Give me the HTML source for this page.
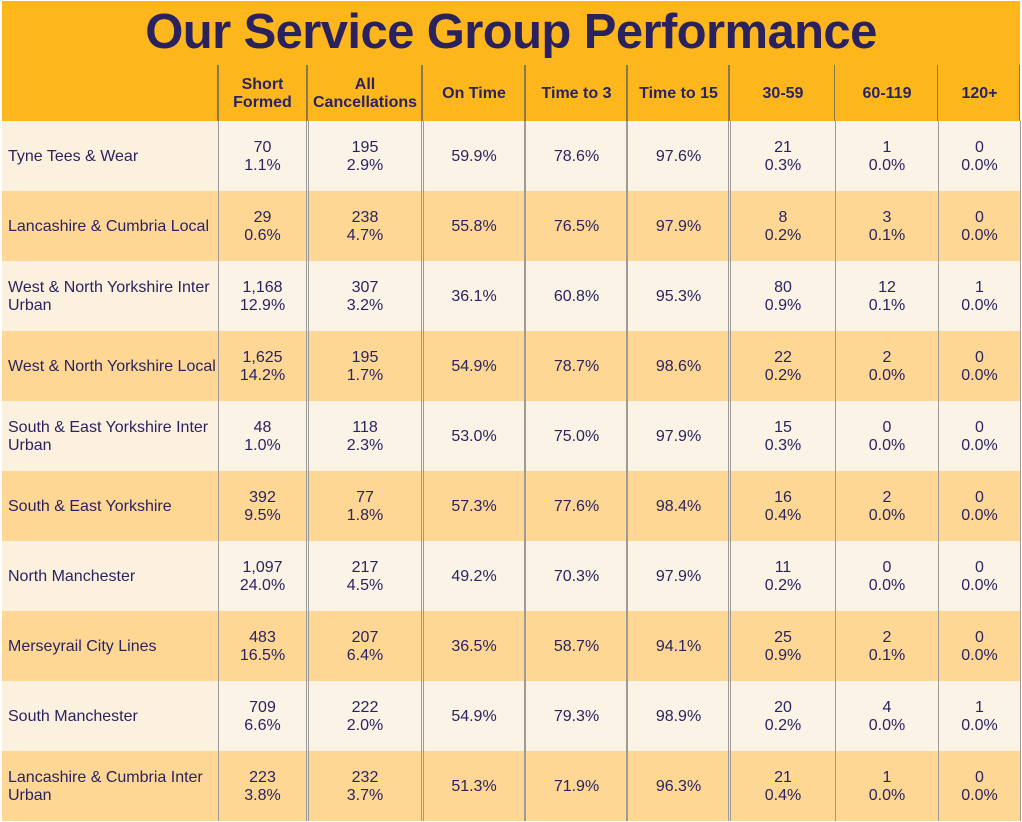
<!DOCTYPE html>
<html>
<head>
<meta charset="utf-8">
<style>
  html,body{margin:0;padding:0;background:#fff;}
  body{width:1022px;height:822px;position:relative;overflow:hidden;
       font-family:"Liberation Sans",Arial,sans-serif;color:#2a2360;}
  .hdr{position:absolute;left:2px;top:1px;width:1018px;height:120px;background:#fdb71d;}
  .title{position:absolute;left:0;width:1022px;top:8px;height:49px;line-height:49px;
         text-align:center;font-weight:bold;font-size:49px;letter-spacing:-0.6px;color:#29225f;}
  .row{position:absolute;left:2px;width:1018px;height:70px;}
  .light{background:#faf3e6;}
  .light .lab{background:#fcf1de;}
  .dark{background:#fed795;}
  .cell{position:absolute;top:0;height:70px;display:flex;align-items:center;justify-content:center;
        text-align:center;font-size:16px;line-height:18px;box-sizing:border-box;padding-top:2px;}
  .lab{position:absolute;left:0;top:0;width:216px;height:70px;display:flex;align-items:center;
       font-size:16px;line-height:18px;padding-left:6px;padding-top:2px;box-sizing:border-box;white-space:nowrap;}
  .h{position:absolute;top:65px;height:56px;display:flex;align-items:center;justify-content:center;
     text-align:center;font-size:16px;line-height:18px;font-weight:bold;color:#2a2360;box-sizing:border-box;padding-top:2px;}
  .vl{position:absolute;top:121px;height:700px;background:#9e9b96;}
  .vh{position:absolute;top:65px;height:56px;background:#8c7749;}
</style>
</head>
<body>
<div class="hdr"></div>
<div class="title">Our Service Group Performance</div>

<div class="h" style="left:219px;width:87px;">Short<br>Formed</div>
<div class="h" style="left:309px;width:112px;">All<br>Cancellations</div>
<div class="h" style="left:423px;width:102px;">On Time</div>
<div class="h" style="left:526px;width:101px;">Time to 3</div>
<div class="h" style="left:628px;width:101px;">Time to 15</div>
<div class="h" style="left:731px;width:104px;">30-59</div>
<div class="h" style="left:836px;width:102px;">60-119</div>
<div class="h" style="left:939px;width:81px;">120+</div>

<!-- rows -->
<div class="row light" style="top:121px;">
  <div class="lab">Tyne Tees &amp; Wear</div>
</div>
<div class="row dark" style="top:191px;">
  <div class="lab">Lancashire &amp; Cumbria Local</div>
</div>
<div class="row light" style="top:261px;">
  <div class="lab">West &amp; North Yorkshire Inter<br>Urban</div>
</div>
<div class="row dark" style="top:331px;">
  <div class="lab">West &amp; North Yorkshire Local</div>
</div>
<div class="row light" style="top:401px;">
  <div class="lab">South &amp; East Yorkshire Inter<br>Urban</div>
</div>
<div class="row dark" style="top:471px;">
  <div class="lab">South &amp; East Yorkshire</div>
</div>
<div class="row light" style="top:541px;">
  <div class="lab">North Manchester</div>
</div>
<div class="row dark" style="top:611px;">
  <div class="lab">Merseyrail City Lines</div>
</div>
<div class="row light" style="top:681px;">
  <div class="lab">South Manchester</div>
</div>
<div class="row dark" style="top:751px;">
  <div class="lab">Lancashire &amp; Cumbria Inter<br>Urban</div>
</div>

<div style="position:absolute;left:0;top:0;">
<!-- row 1 -->
<div class="cell" style="left:219px;width:87px;top:121px;">70<br>1.1%</div>
<div class="cell" style="left:309px;width:112px;top:121px;">195<br>2.9%</div>
<div class="cell" style="left:423px;width:102px;top:121px;">59.9%</div>
<div class="cell" style="left:526px;width:101px;top:121px;">78.6%</div>
<div class="cell" style="left:628px;width:101px;top:121px;">97.6%</div>
<div class="cell" style="left:731px;width:104px;top:121px;">21<br>0.3%</div>
<div class="cell" style="left:836px;width:102px;top:121px;">1<br>0.0%</div>
<div class="cell" style="left:939px;width:81px;top:121px;">0<br>0.0%</div>
<!-- row 2 -->
<div class="cell" style="left:219px;width:87px;top:191px;">29<br>0.6%</div>
<div class="cell" style="left:309px;width:112px;top:191px;">238<br>4.7%</div>
<div class="cell" style="left:423px;width:102px;top:191px;">55.8%</div>
<div class="cell" style="left:526px;width:101px;top:191px;">76.5%</div>
<div class="cell" style="left:628px;width:101px;top:191px;">97.9%</div>
<div class="cell" style="left:731px;width:104px;top:191px;">8<br>0.2%</div>
<div class="cell" style="left:836px;width:102px;top:191px;">3<br>0.1%</div>
<div class="cell" style="left:939px;width:81px;top:191px;">0<br>0.0%</div>
<!-- row 3 -->
<div class="cell" style="left:219px;width:87px;top:261px;">1,168<br>12.9%</div>
<div class="cell" style="left:309px;width:112px;top:261px;">307<br>3.2%</div>
<div class="cell" style="left:423px;width:102px;top:261px;">36.1%</div>
<div class="cell" style="left:526px;width:101px;top:261px;">60.8%</div>
<div class="cell" style="left:628px;width:101px;top:261px;">95.3%</div>
<div class="cell" style="left:731px;width:104px;top:261px;">80<br>0.9%</div>
<div class="cell" style="left:836px;width:102px;top:261px;">12<br>0.1%</div>
<div class="cell" style="left:939px;width:81px;top:261px;">1<br>0.0%</div>
<!-- row 4 -->
<div class="cell" style="left:219px;width:87px;top:331px;">1,625<br>14.2%</div>
<div class="cell" style="left:309px;width:112px;top:331px;">195<br>1.7%</div>
<div class="cell" style="left:423px;width:102px;top:331px;">54.9%</div>
<div class="cell" style="left:526px;width:101px;top:331px;">78.7%</div>
<div class="cell" style="left:628px;width:101px;top:331px;">98.6%</div>
<div class="cell" style="left:731px;width:104px;top:331px;">22<br>0.2%</div>
<div class="cell" style="left:836px;width:102px;top:331px;">2<br>0.0%</div>
<div class="cell" style="left:939px;width:81px;top:331px;">0<br>0.0%</div>
<!-- row 5 -->
<div class="cell" style="left:219px;width:87px;top:401px;">48<br>1.0%</div>
<div class="cell" style="left:309px;width:112px;top:401px;">118<br>2.3%</div>
<div class="cell" style="left:423px;width:102px;top:401px;">53.0%</div>
<div class="cell" style="left:526px;width:101px;top:401px;">75.0%</div>
<div class="cell" style="left:628px;width:101px;top:401px;">97.9%</div>
<div class="cell" style="left:731px;width:104px;top:401px;">15<br>0.3%</div>
<div class="cell" style="left:836px;width:102px;top:401px;">0<br>0.0%</div>
<div class="cell" style="left:939px;width:81px;top:401px;">0<br>0.0%</div>
<!-- row 6 -->
<div class="cell" style="left:219px;width:87px;top:471px;">392<br>9.5%</div>
<div class="cell" style="left:309px;width:112px;top:471px;">77<br>1.8%</div>
<div class="cell" style="left:423px;width:102px;top:471px;">57.3%</div>
<div class="cell" style="left:526px;width:101px;top:471px;">77.6%</div>
<div class="cell" style="left:628px;width:101px;top:471px;">98.4%</div>
<div class="cell" style="left:731px;width:104px;top:471px;">16<br>0.4%</div>
<div class="cell" style="left:836px;width:102px;top:471px;">2<br>0.0%</div>
<div class="cell" style="left:939px;width:81px;top:471px;">0<br>0.0%</div>
<!-- row 7 -->
<div class="cell" style="left:219px;width:87px;top:541px;">1,097<br>24.0%</div>
<div class="cell" style="left:309px;width:112px;top:541px;">217<br>4.5%</div>
<div class="cell" style="left:423px;width:102px;top:541px;">49.2%</div>
<div class="cell" style="left:526px;width:101px;top:541px;">70.3%</div>
<div class="cell" style="left:628px;width:101px;top:541px;">97.9%</div>
<div class="cell" style="left:731px;width:104px;top:541px;">11<br>0.2%</div>
<div class="cell" style="left:836px;width:102px;top:541px;">0<br>0.0%</div>
<div class="cell" style="left:939px;width:81px;top:541px;">0<br>0.0%</div>
<!-- row 8 -->
<div class="cell" style="left:219px;width:87px;top:611px;">483<br>16.5%</div>
<div class="cell" style="left:309px;width:112px;top:611px;">207<br>6.4%</div>
<div class="cell" style="left:423px;width:102px;top:611px;">36.5%</div>
<div class="cell" style="left:526px;width:101px;top:611px;">58.7%</div>
<div class="cell" style="left:628px;width:101px;top:611px;">94.1%</div>
<div class="cell" style="left:731px;width:104px;top:611px;">25<br>0.9%</div>
<div class="cell" style="left:836px;width:102px;top:611px;">2<br>0.1%</div>
<div class="cell" style="left:939px;width:81px;top:611px;">0<br>0.0%</div>
<!-- row 9 -->
<div class="cell" style="left:219px;width:87px;top:681px;">709<br>6.6%</div>
<div class="cell" style="left:309px;width:112px;top:681px;">222<br>2.0%</div>
<div class="cell" style="left:423px;width:102px;top:681px;">54.9%</div>
<div class="cell" style="left:526px;width:101px;top:681px;">79.3%</div>
<div class="cell" style="left:628px;width:101px;top:681px;">98.9%</div>
<div class="cell" style="left:731px;width:104px;top:681px;">20<br>0.2%</div>
<div class="cell" style="left:836px;width:102px;top:681px;">4<br>0.0%</div>
<div class="cell" style="left:939px;width:81px;top:681px;">1<br>0.0%</div>
<!-- row 10 -->
<div class="cell" style="left:219px;width:87px;top:751px;">223<br>3.8%</div>
<div class="cell" style="left:309px;width:112px;top:751px;">232<br>3.7%</div>
<div class="cell" style="left:423px;width:102px;top:751px;">51.3%</div>
<div class="cell" style="left:526px;width:101px;top:751px;">71.9%</div>
<div class="cell" style="left:628px;width:101px;top:751px;">96.3%</div>
<div class="cell" style="left:731px;width:104px;top:751px;">21<br>0.4%</div>
<div class="cell" style="left:836px;width:102px;top:751px;">1<br>0.0%</div>
<div class="cell" style="left:939px;width:81px;top:751px;">0<br>0.0%</div>
</div>

<!-- header vertical lines -->
<div class="vh" style="left:217px;width:2px;"></div>
<div class="vh" style="left:306px;width:2px;"></div>
<div class="vh" style="left:421px;width:2px;"></div>
<div class="vh" style="left:524px;width:2px;"></div>
<div class="vh" style="left:626px;width:2px;"></div>
<div class="vh" style="left:728px;width:2px;"></div>
<div class="vh" style="left:834px;width:1px;"></div>
<div class="vh" style="left:937px;width:1px;"></div>
<div class="vh" style="left:1019px;width:1px;"></div>

<!-- body vertical lines -->
<div class="vl" style="left:218px;width:1px;"></div>
<div class="vl" style="left:306px;width:1px;"></div>
<div class="vl" style="left:308px;width:1px;"></div>
<div class="vl" style="left:421px;width:1px;"></div>
<div class="vl" style="left:423px;width:1px;"></div>
<div class="vl" style="left:524px;width:2px;"></div>
<div class="vl" style="left:626px;width:2px;"></div>
<div class="vl" style="left:728px;width:1px;"></div>
<div class="vl" style="left:730px;width:1px;"></div>
<div class="vl" style="left:835px;width:1px;"></div>
<div class="vl" style="left:938px;width:1px;"></div>
<div class="vl" style="left:1020px;width:1px;"></div>
</body>
</html>
